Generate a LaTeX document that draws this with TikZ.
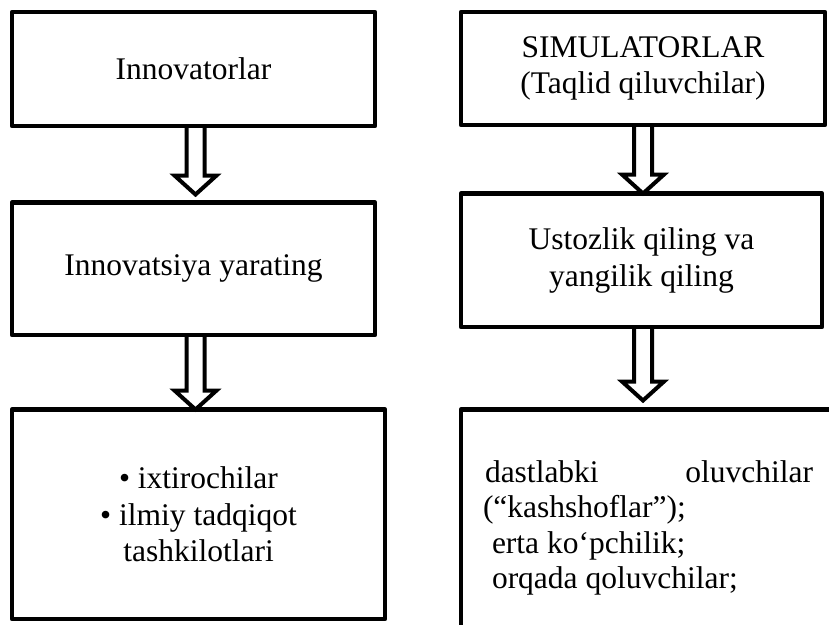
\documentclass[tikz,border=0pt]{standalone}
\usepackage{fontspec}
\setmainfont{Liberation Serif}
\usetikzlibrary{calc}
\tikzset{
  box/.style={draw, line width=4.5pt, line join=round, inner sep=0pt, outer sep=0pt, align=center, font=\fontsize{31.5}{36.5}\selectfont},
  hollowarr/.style={draw, line width=4pt, line join=miter},
  txt/.style={inner sep=0pt, outer sep=0pt, anchor=base west, font=\fontsize{31.5}{36.5}\selectfont}
}
\newcommand{\hollowarrow}[4]{%
  \draw[hollowarr] let \p1=($(#1.south)+(#3pt,0)$), \p2=(#2.north) in
   (\x1-9pt,\y1) -- (\x1-9pt,\y2+#4pt+19pt) -- (\x1-21pt,\y2+#4pt+19pt) -- (\x1,\y2+#4pt)
   -- (\x1+21pt,\y2+#4pt+19pt) -- (\x1+9pt,\y2+#4pt+19pt) -- (\x1+9pt,\y1);}
\begin{document}
\begin{tikzpicture}[x=1pt,y=-1pt]
\useasboundingbox (0,0) rectangle (829,624);
\clip (0,0) rectangle (829,624);
\node[box, minimum width=363pt, minimum height=114pt] (b1) at (193.5,69) {Innovatorlar};
\node[box, minimum width=364pt, minimum height=113pt] (b2) at (643,68.5) {SIMULATORLAR\\(Taqlid qiluvchilar)};
\node[box, minimum width=363pt, minimum height=132.5pt] (b3) at (193.5,268.75) {Innovatsiya yarating};
\node[box, minimum width=361pt, minimum height=133.5pt] (b4) at (641.5,260.25) {Ustozlik qiling va\\yangilik qiling};
\node[box, minimum width=373pt, minimum height=209.5pt] (b5) at (198.5,514.25) {• ixtirochilar\\• ilmiy tadqiqot\\tashkilotlari};
\node[box, minimum width=389pt, minimum height=240.5pt] (b6) at (655.5,529.75) {};
\node[txt] (t1) at (483,482) {\makebox[330pt][l]{\hspace*{2pt}dastlabki\hfill oluvchilar}};
\node[txt] (t2) at (483,517.5) {(“kashshoflar”);};
\node[txt] (t3) at (483,553) {\hspace*{9pt}erta ko‘pchilik;};
\node[txt] (t4) at (483,588.5) {\hspace*{9pt}orqada qoluvchilar;};
\hollowarrow{b1}{b3}{2}{8}
\hollowarrow{b2}{b4}{0}{0}
\hollowarrow{b3}{b5}{2}{0}
\hollowarrow{b4}{b6}{1.5}{9}
\end{tikzpicture}
\end{document}
